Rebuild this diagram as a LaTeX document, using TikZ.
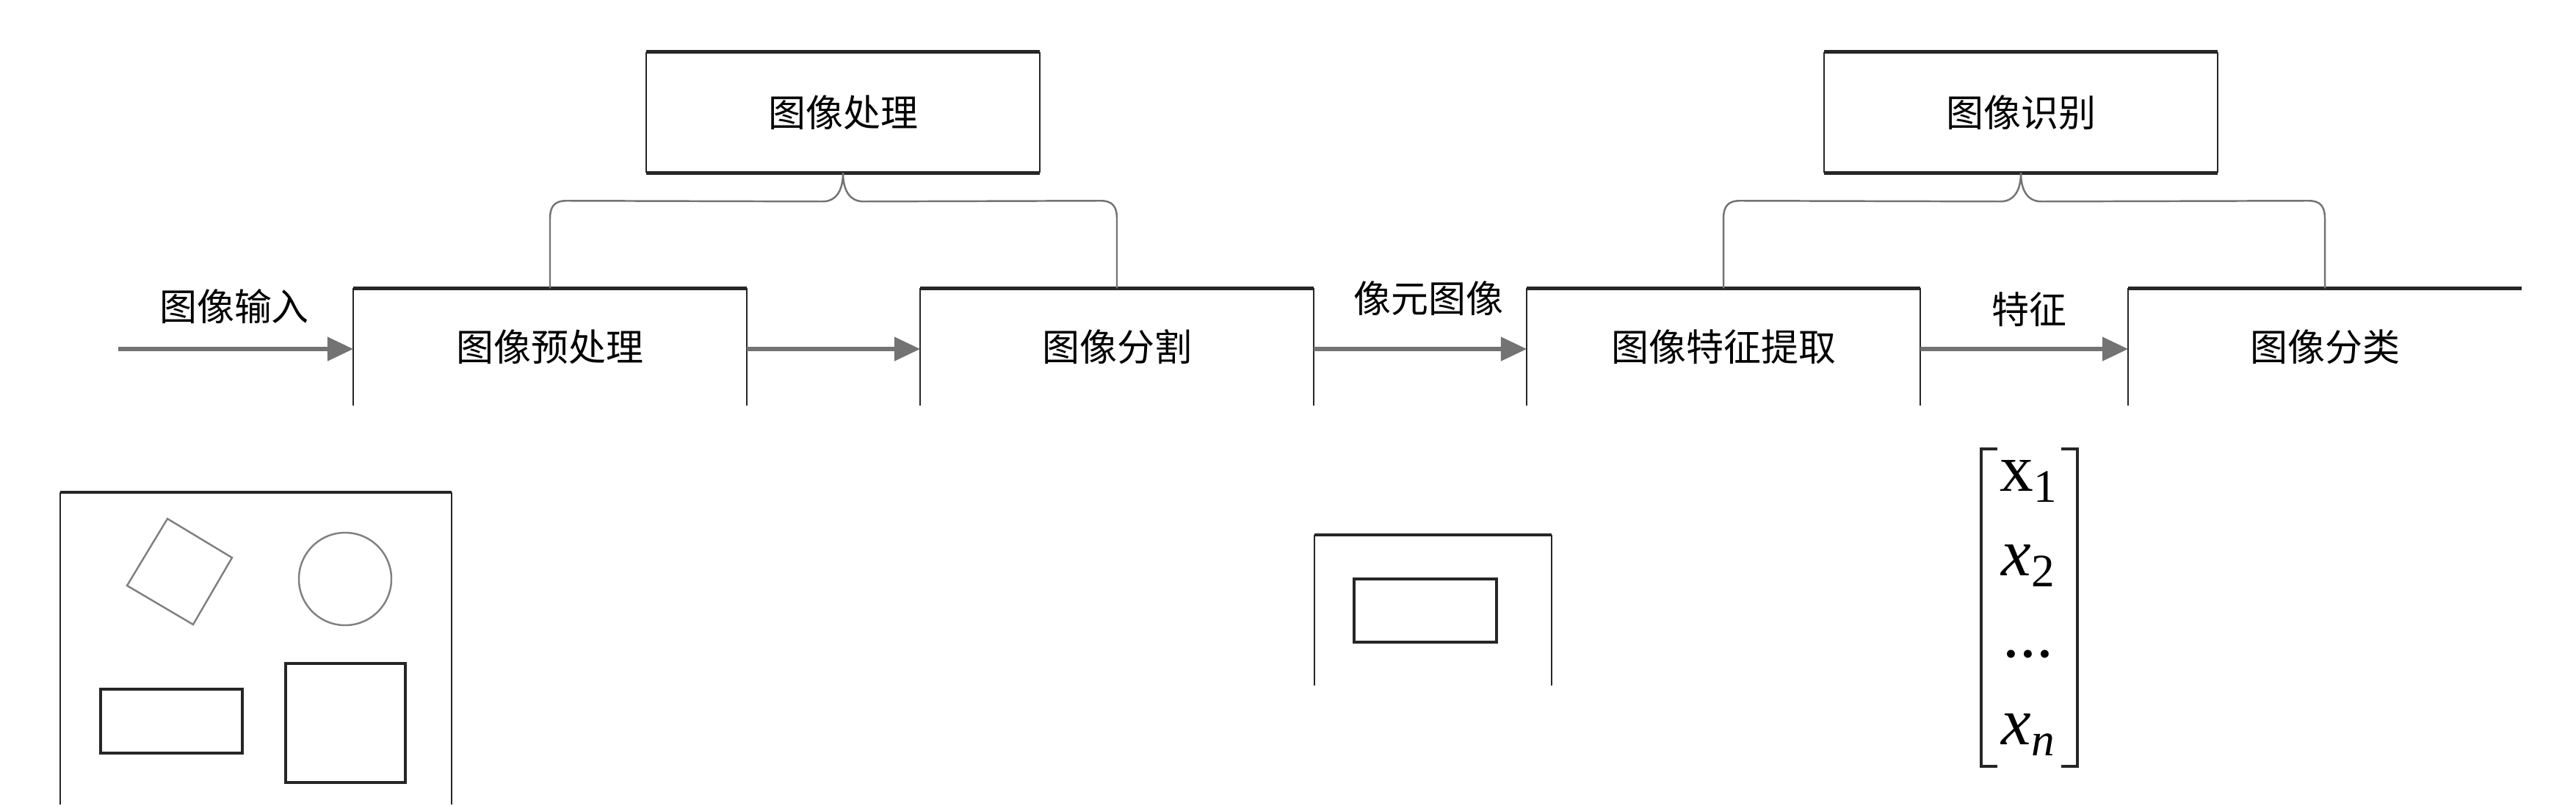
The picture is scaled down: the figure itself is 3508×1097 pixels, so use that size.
\documentclass[tikz,border=0pt]{standalone}
\usepackage{fontspec}
\setmainfont{Liberation Serif}
\newfontfamily\cjk{Noto Sans CJK SC}
\newfontfamily\vecfont{Liberation Serif}
\usetikzlibrary{calc,positioning,arrows.meta}
\tikzset{
  stagebox/.style={minimum width=5.34cm,minimum height=1.58cm,inner sep=0pt,
    font=\cjk\fontsize{14.5}{16}\selectfont},
  thick edge/.style={line width=1.4pt,black!85},
  thin edge/.style={line width=0.7pt,black!85},
  flow/.style={line width=1.6pt,black!55,-{Triangle[length=10pt,width=9pt]}},
  brace/.style={line width=0.7pt,black!55,rounded corners=0pt},
  lbl/.style={font=\cjk\fontsize{14.5}{16}\selectfont},
  vec/.style={font=\vecfont\fontsize{26}{28}\selectfont}
}
\newcommand\subsc[1]{\raisebox{-0.35ex}{\fontsize{18}{20}\selectfont #1}}
\begin{document}
\begin{tikzpicture}[x=0.01cm,y=-0.01cm]
\useasboundingbox (0,0) rectangle (3508,1097);
% stages
\node at (749,472) (pre) [stagebox] {图像预处理};
\node at (1521,472) (seg) [stagebox] {图像分割};
\node at (2347,472) (feat) [stagebox] {图像特征提取};
\node at (3166,472) (cls) [stagebox] {图像分类};
\node at (1148,153) (proc) [stagebox,minimum height=1.63cm] {图像处理};
\node at (2752,153) (rec) [stagebox,minimum height=1.63cm] {图像识别};
\foreach \n in {pre,seg,feat}{
  \draw[thin edge] (\n.south west) -- (\n.north west);
  \draw[thin edge] (\n.south east) -- (\n.north east);
  \draw[thick edge] (\n.north west) -- (\n.north east);
}
\draw[thin edge] (cls.south west) -- (cls.north west);
\draw[thick edge] (cls.north west) -- (cls.north east);
\foreach \n in {proc,rec}{
  \draw[thin edge] (\n.south west) -- (\n.north west);
  \draw[thin edge] (\n.south east) -- (\n.north east);
  \draw[thick edge] (\n.north west) -- (\n.north east);
  \draw[thick edge] (\n.south west) -- (\n.south east);
}
% braces
\foreach \t/\l/\r in {proc/pre/seg,rec/feat/cls}{
  \draw[brace] (\t.south) .. controls +(0,22) and +(20,0) .. ($(\t.south)+(-28,39)$)
    -- ($(\l.north)+(22,-119)$) .. controls +(-16,0) and +(0,-16) .. ($(\l.north)+(0,-95)$)
    -- (\l.north);
  \draw[brace] (\t.south) .. controls +(0,22) and +(-20,0) .. ($(\t.south)+(28,39)$)
    -- ($(\r.north)+(-22,-119)$) .. controls +(16,0) and +(0,-16) .. ($(\r.north)+(0,-95)$)
    -- (\r.north);
}
% flow
\coordinate (in) at (161,475);
\draw[flow] (in) -- (pre.west |- in);
\draw[flow] (pre.east |- in) -- (seg.west |- in);
\draw[flow] (seg.east |- in) -- (feat.west |- in);
\draw[flow] (feat.east |- in) -- (cls.west |- in);
\node at (319,417) (lin) [lbl] {图像输入};
\node at (1945,406) (lpix) [lbl] {像元图像};
\node at (2763,421) (lfeat) [lbl] {特征};
% input image
\draw[thin edge] (82,1095) -- (82,670);
\draw[thin edge] (615,1095) -- (615,670);
\draw[thick edge] (82,670) -- (615,670);
\draw[thin edge,black!50] (228,706) -- (316,759) -- (263,850) -- (173,797) -- cycle;
\draw[thin edge,black!50] (470,788) circle (63);
\draw[thin edge,line width=1pt] (137,938) rectangle (330,1025);
\draw[thin edge,line width=1pt] (389,903) rectangle (552,1065);
% segmented image
\draw[thin edge] (1790,933) -- (1790,728);
\draw[thin edge] (2113,933) -- (2113,728);
\draw[thick edge] (1790,728) -- (2113,728);
\draw[thin edge,line width=1pt] (1844,788) rectangle (2038,874);
% feature vector
\draw[thin edge,line width=1pt] (2720,611) -- (2698,611) -- (2698,1043) -- (2720,1043);
\draw[thin edge,line width=1pt] (2807,611) -- (2829,611) -- (2829,1043) -- (2807,1043);
\node at (2762,655) (v1) [vec] {x\subsc{1}};
\node at (2762,770) (v2) [vec] {\textit{x}\subsc{2}};
\node at (2762,890) (v3) [vec] {...};
\node at (2762,1000) (vn) [vec] {\textit{x}\subsc{\textit{n}}};
\end{tikzpicture}
\end{document}
